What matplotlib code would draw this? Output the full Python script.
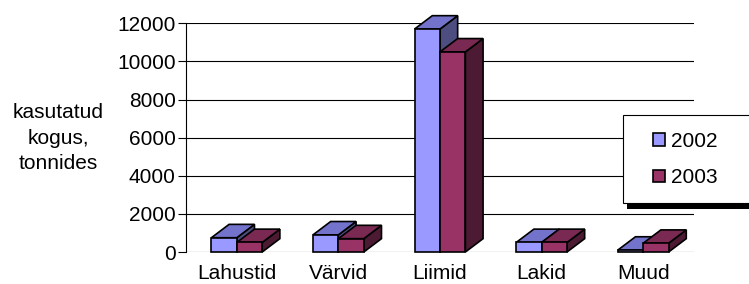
import matplotlib
matplotlib.use("Agg")
import matplotlib.pyplot as plt
from matplotlib.patches import Polygon, Rectangle, Patch

plt.rcParams['font.family'] = ['Liberation Sans', 'DejaVu Sans']

# andmed
kategooriad = ["Lahustid", "Värvid", "Liimid", "Lakid", "Muud"]
aastad = ["2002", "2003"]
kogus_2002 = [750, 900, 11700, 500, 100]
kogus_2003 = [500, 700, 10500, 500, 460]
y_ticks = [0, 2000, 4000, 6000, 8000, 10000, 12000]

# värvid: esikülg, pealmine, külg
varvid = {
    "2002": ("#9999FF", "#7373CC", "#4D4D80"),
    "2003": ("#993366", "#7A2952", "#4D1A33"),
}

W = 749
H = 284
DX = 0.174   # sügavus x suunas (andmeühikutes)
DY = 700     # sügavus y suunas
LAIUS = 0.25
LW = 1.2

fig = plt.figure(figsize=(W / 100, H / 100), dpi=100)
ax = fig.add_axes([186 / W, 32 / H, 508 / W, 228.7 / H])


def tulp(x0, h, front, top, side):
    ax.add_patch(Polygon([(x0 + LAIUS, 0), (x0 + LAIUS + DX, DY),
                          (x0 + LAIUS + DX, h + DY), (x0 + LAIUS, h)],
                         closed=True, fc=side, ec="k", lw=LW, zorder=3, clip_on=False))
    ax.add_patch(Polygon([(x0, h), (x0 + DX, h + DY),
                          (x0 + LAIUS + DX, h + DY), (x0 + LAIUS, h)],
                         closed=True, fc=top, ec="k", lw=LW, zorder=3, clip_on=False))
    ax.bar(x0, h, width=LAIUS, align="edge", color=front, edgecolor="k",
           linewidth=LW, zorder=3, clip_on=False)


for i in range(len(kategooriad)):
    tulp(i - LAIUS, kogus_2002[i], *varvid["2002"])
    tulp(i, kogus_2003[i], *varvid["2003"])

ax.set_xlim(-0.5, len(kategooriad) - 0.5)
ax.set_ylim(0, 12000)
ax.set_yticks(y_ticks)
ax.set_yticklabels([str(t) for t in y_ticks], fontsize=15)
ax.set_xticks(range(len(kategooriad)))
ax.set_xticklabels(kategooriad, fontsize=15)
ax.tick_params(axis="x", length=0, pad=8.5)
ax.tick_params(axis="y", length=5.8, width=0.8, pad=1.5)

ax.yaxis.grid(True, color="k", linewidth=0.8)
ax.set_axisbelow(True)
for s in ["top", "right", "bottom"]:
    ax.spines[s].set_visible(False)
ax.spines["left"].set_linewidth(0.8)

ax.set_ylabel("kasutatud\nkogus,\ntonnides", rotation=0, fontsize=15,
              ha="center", va="center", multialignment="center", linespacing=1.42)
ax.yaxis.set_label_coords((58 - 186) / 508, (252 - 138.3) / 228.7)

# legend koos varjuga
fig.add_artist(Rectangle((627 / W, (H - 209) / H), 0.3, 88 / H,
                         transform=fig.transFigure, fc="k", ec="none"))
fig.add_artist(Rectangle((623 / W, (H - 203) / H), 0.3, 88 / H,
                         transform=fig.transFigure, fc="white", ec="k", lw=0.8))
kasitsejad = [Patch(facecolor=varvid[a][0], edgecolor="k", linewidth=1.2) for a in aastad]
fig.legend(kasitsejad, aastad, loc="center left",
           bbox_to_anchor=(653 / W, (H - 159.5) / H), frameon=False,
           handlelength=0.58, handleheight=0.58, handletextpad=0.3,
           labelspacing=0.85, borderpad=0, borderaxespad=0, fontsize=15)

fig.savefig("out.png", dpi=100)
